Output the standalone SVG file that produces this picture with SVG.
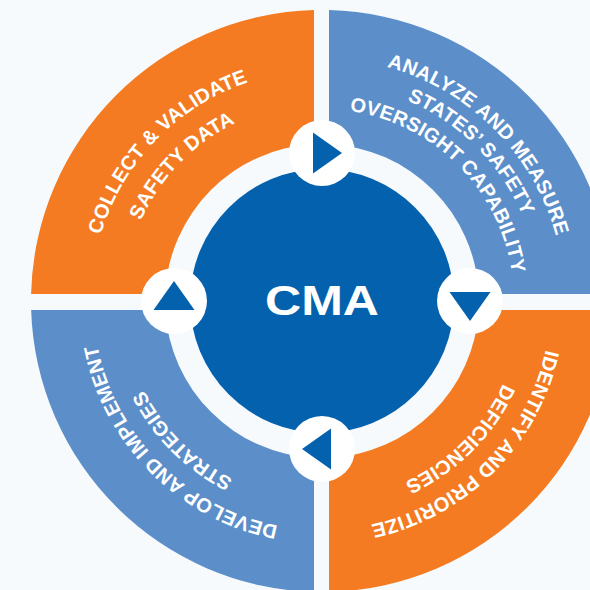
<svg xmlns="http://www.w3.org/2000/svg" xmlns:xlink="http://www.w3.org/1999/xlink" width="590" height="590" viewBox="0 0 590 590">
<style>
.orange{fill:#F47B21}
.lblue{fill:#5C8FCA}
.dblue{fill:#0461AD}
.lbl{font-family:"Liberation Sans",Arial,sans-serif;font-weight:bold;font-size:20px;fill:#FFFFFF;letter-spacing:0.2px}
.marker{fill:#FFFFFF}
</style>
<defs>
<polygon id="tri" points="-9,-20.5 -9,20.5 20,0"/>
<path id="p1a" d="M 99.95 364.67 A 231 231 0 0 1 377.88 76.86"/>
<path id="p1b" d="M 131.67 355.58 A 198 198 0 0 1 369.90 108.88"/>
<path id="p2a" d="M 259.11 66.28 A 243 243 0 0 1 556.72 363.89"/>
<path id="p2b" d="M 265.58 90.43 A 218 218 0 0 1 532.57 357.42"/>
<path id="p2c" d="M 272.31 115.54 A 192 192 0 0 1 507.46 350.69"/>
<path id="p3a" d="M 543.20 241.73 A 229 229 0 0 1 262.73 522.20"/>
<path id="p3b" d="M 514.22 249.49 A 199 199 0 0 1 270.49 493.22"/>
<path id="p4a" d="M 381.27 522.20 A 229 229 0 0 1 100.80 241.73"/>
<path id="p4b" d="M 373.51 493.22 A 199 199 0 0 1 129.78 249.49"/>
</defs>
<rect x="0" y="0" width="590" height="590" fill="#F6FAFD"/>
<g id="collect">
<path class="orange" d="M 314 10.11 A 291 291 0 0 0 31.08 294 L 165.16 294 A 157 157 0 0 1 314 144.2 Z"/>
<text class="lbl" text-anchor="middle"><textPath href="#p1a" startOffset="50%">COLLECT &amp; VALIDATE</textPath></text>
<text class="lbl" text-anchor="middle"><textPath href="#p1b" startOffset="50%">SAFETY DATA</textPath></text>
</g>
<g id="analyze">
<path class="lblue" d="M 329 10.08 A 291 291 0 0 1 612.92 294 L 478.84 294 A 157 157 0 0 0 329 144.16 Z"/>
<text class="lbl" text-anchor="middle"><textPath href="#p2a" startOffset="50%">ANALYZE AND MEASURE</textPath></text>
<text class="lbl" text-anchor="middle"><textPath href="#p2b" startOffset="50%">STATES’ SAFETY</textPath></text>
<text class="lbl" text-anchor="middle"><textPath href="#p2c" startOffset="50%">OVERSIGHT CAPABILITY</textPath></text>
</g>
<g id="identify">
<path class="orange" d="M 612.86 310 A 291 291 0 0 1 329 591.92 L 329 457.84 A 157 157 0 0 0 478.74 310 Z"/>
<text class="lbl" text-anchor="middle"><textPath href="#p3a" startOffset="50%">IDENTIFY AND PRIORITIZE</textPath></text>
<text class="lbl" text-anchor="middle"><textPath href="#p3b" startOffset="50%">DEFICIENCIES</textPath></text>
</g>
<g id="develop">
<path class="lblue" d="M 314 591.89 A 291 291 0 0 1 31.14 310 L 165.26 310 A 157 157 0 0 0 314 457.8 Z"/>
<text class="lbl" text-anchor="middle"><textPath href="#p4a" startOffset="50%">DEVELOP AND IMPLEMENT</textPath></text>
<text class="lbl" text-anchor="middle"><textPath href="#p4b" startOffset="50%">STRATEGIES</textPath></text>
</g>
<g id="cma">
<circle class="dblue" cx="322" cy="301" r="132"/>
<text x="322" y="315" text-anchor="middle" font-family="Liberation Sans, Arial, sans-serif" font-weight="bold" font-size="42" fill="#FFFFFF" textLength="114" lengthAdjust="spacingAndGlyphs">CMA</text>
</g>
<g id="connectors">
<g id="m-top"><circle class="marker" cx="322" cy="153" r="33"/><use href="#tri" class="dblue" transform="translate(322,153)"/></g>
<g id="m-right"><circle class="marker" cx="470" cy="301" r="33"/><use href="#tri" class="dblue" transform="translate(470,301) rotate(90)"/></g>
<g id="m-bottom"><circle class="marker" cx="322" cy="449" r="33"/><use href="#tri" class="dblue" transform="translate(322,449) rotate(180)"/></g>
<g id="m-left"><circle class="marker" cx="174" cy="301" r="33"/><use href="#tri" class="dblue" transform="translate(174,301) rotate(270)"/></g>
</g>
</svg>
